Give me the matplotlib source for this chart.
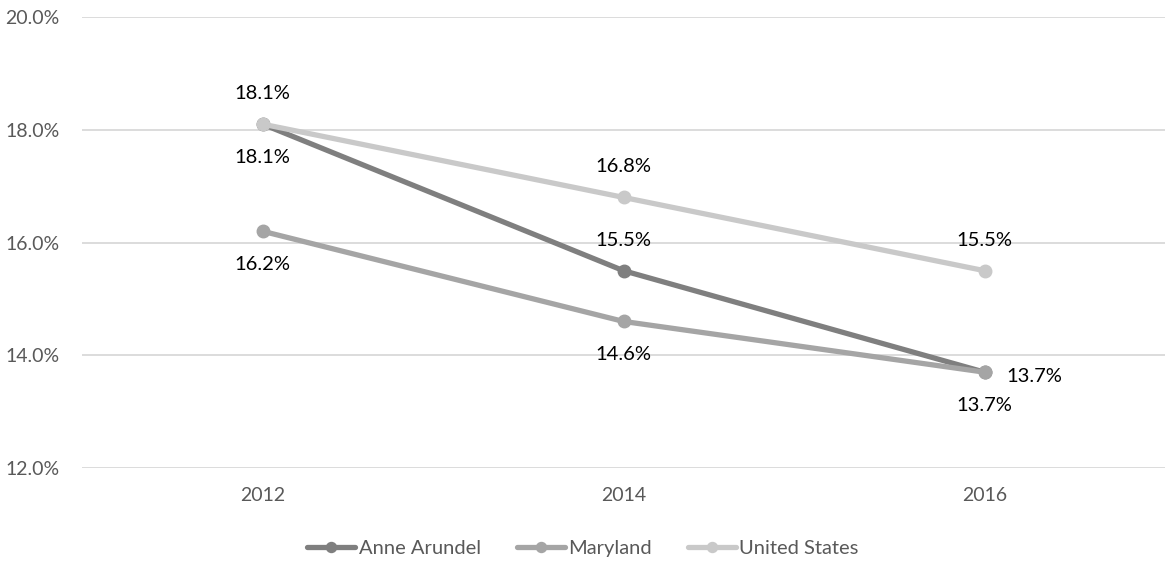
import matplotlib
matplotlib.use("Agg")
import matplotlib.pyplot as plt

years = ["2012", "2014", "2016"]
anne_arundel = [18.1, 15.5, 13.7]
maryland = [16.2, 14.6, 13.7]
united_states = [18.1, 16.8, 15.5]
series_names = ["Anne Arundel", "Maryland", "United States"]
colors = ["#7f7f7f", "#a5a5a5", "#c9c9c9"]
# label placement per point: 'above', 'below', 'right'
placements = [
    ["below", "above", "right"],
    ["below", "below", "below"],
    ["above", "above", "above"],
]
yticks = [12, 14, 16, 18, 20]

plt.rcParams['font.family'] = ['Lato', 'DejaVu Sans']
fig = plt.figure(figsize=(11.66, 5.66), dpi=100)
ax = fig.add_axes([82/1166, 1-468/566, (1165-82)/1166, (468-17)/566])

x = list(range(len(years)))
all_series = [anne_arundel, maryland, united_states]
for vals, name, c in zip(all_series, series_names, colors):
    ax.plot(x, vals, color=c, lw=3.8, marker='o', ms=9, label=name,
            solid_capstyle='round', zorder=3)

for vals, pl in zip(all_series, placements):
    for xi, v, p in zip(x, vals, pl):
        if p == 'above':
            off, ha, va = (0, 22), 'center', 'center'
        elif p == 'below':
            off, ha, va = (0, -24), 'center', 'center'
        else:
            off, ha, va = (16, -3), 'left', 'center'
        ax.annotate(f"{v:.1f}%", (xi, v), xytext=off, textcoords='offset points',
                    ha=ha, va=va, fontsize=14.5, color='#000000', zorder=4)

ax.set_xlim(-0.5, 2.5)
ax.set_ylim(12, 20)
ax.set_yticks(yticks)
ax.set_yticklabels([f"{t:.1f}%" for t in yticks])
ax.set_xticks(x)
ax.set_xticklabels(years)
ax.grid(axis='y', color='#d9d9d9', lw=1.3, zorder=0)
ax.set_axisbelow(True)
for s in ax.spines.values():
    s.set_visible(False)
ax.tick_params(axis='both', length=0, labelsize=14, colors='#595959')
ax.tick_params(axis='x', pad=14)
ax.tick_params(axis='y', pad=16)

leg = fig.legend(loc='center', bbox_to_anchor=(0.5, 1-548/566), ncol=3,
                 frameon=False, fontsize=14.5, handlelength=2.4, columnspacing=1.8,
                 handletextpad=0.15, markerscale=0.8)
for t in leg.get_texts():
    t.set_color('#595959')

fig.savefig("out.png", dpi=100)
